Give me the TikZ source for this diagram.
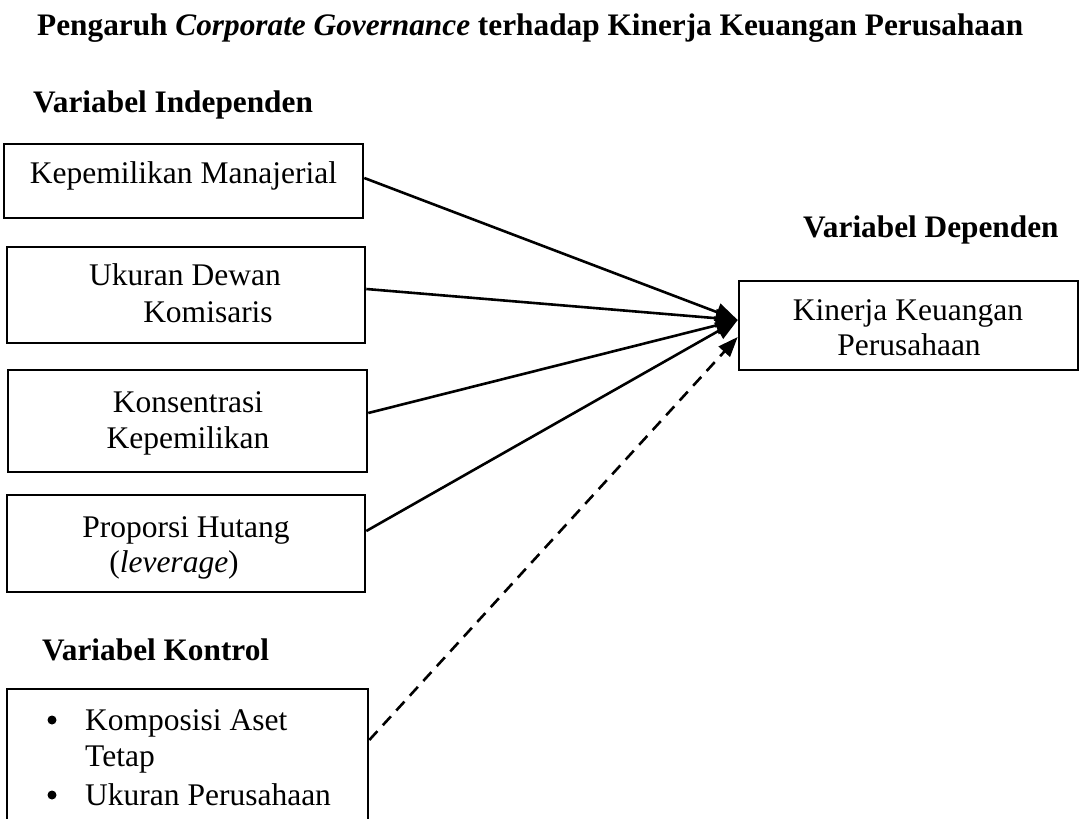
\documentclass[tikz,border=0pt]{standalone}
\usepackage{fontspec}
\setmainfont{Liberation Serif}
\usetikzlibrary{arrows.meta}
\begin{document}
\begin{tikzpicture}[x=1pt,y=-1pt,
  box/.style={draw,line width=2.6pt,rectangle,inner sep=0pt},
  txt/.style={inner sep=0pt,font=\fontsize{31.5}{38}\selectfont},
  hdr/.style={inner sep=0pt,anchor=base west,font=\fontsize{31.3}{38}\selectfont\bfseries},
  dot/.style={circle,fill,inner sep=0pt,minimum size=9pt},
  link/.style={line width=2.6pt,-{Triangle[length=22pt,width=18pt]}},
  dlink/.style={line width=2.6pt,dash pattern=on 12pt off 8pt,-{Triangle[length=20pt,width=15pt]}}]
\useasboundingbox (0,0) rectangle (1085,819);
\clip (0,0) rectangle (1085,819);
\fill[white] (0,0) rectangle (1085,819);

% headings
\node[hdr] (title) at (37,35) {Pengaruh \textit{Corporate Governance} terhadap Kinerja Keuangan Perusahaan};
\node[hdr] (hind) at (33,112) {Variabel Independen};
\node[hdr] (hdep) at (803,237) {Variabel Dependen};
\node[hdr] (hkon) at (42,660) {Variabel Kontrol};

% boxes
\node[box,minimum width=359pt,minimum height=74pt] (b1) at (183.5,181) {};
\node[box,minimum width=358pt,minimum height=96pt] (b2) at (186,295) {};
\node[box,minimum width=359pt,minimum height=102pt] (b3) at (187.5,421) {};
\node[box,minimum width=358pt,minimum height=97pt] (b4) at (186,543.5) {};
\node[box,minimum width=361pt,minimum height=200pt] (b5) at (187.5,789) {};
\node[box,minimum width=339pt,minimum height=89pt] (t) at (908.5,325.5) {};

% box texts
\node[txt,anchor=base] (t1) at (183.5,183) {Kepemilikan Manajerial};
\node[txt,anchor=base] (t2a) at (185,285) {Ukuran Dewan};
\node[txt,anchor=base] (t2b) at (208,322) {Komisaris};
\node[txt,anchor=base] (t3a) at (188,412) {Konsentrasi};
\node[txt,anchor=base] (t3b) at (188,448) {Kepemilikan};
\node[txt,anchor=base] (t4a) at (186,537) {Proporsi Hutang};
\node[txt,anchor=base] (t4b) at (174,572) {(\textit{leverage})};
\node[txt,anchor=base] (tt1) at (908,320) {Kinerja Keuangan};
\node[txt,anchor=base] (tt2) at (909,355) {Perusahaan};

\node[dot] (bu1) at (52,720) {};
\node[txt,anchor=base west] (t5a) at (85,730) {Komposisi Aset};
\node[txt,anchor=base west] (t5b) at (85,766) {Tetap};
\node[dot] (bu2) at (52,795) {};
\node[txt,anchor=base west] (t5c) at (85,805) {Ukuran Perusahaan};

% connectors
\draw[link] ([yshift=3pt]b1.east) -- ([yshift=5.5pt]t.west);
\draw[link] ([yshift=6pt]b2.east) -- ([yshift=5.5pt]t.west);
\draw[link] ([yshift=8pt]b3.east) -- ([yshift=5.5pt]t.west);
\draw[link] ([yshift=12.5pt]b4.east) -- ([yshift=5.5pt]t.west);
\draw[dlink] ([yshift=49pt]b5.east) -- ([yshift=-11.5pt]t.west);
\end{tikzpicture}
\end{document}
